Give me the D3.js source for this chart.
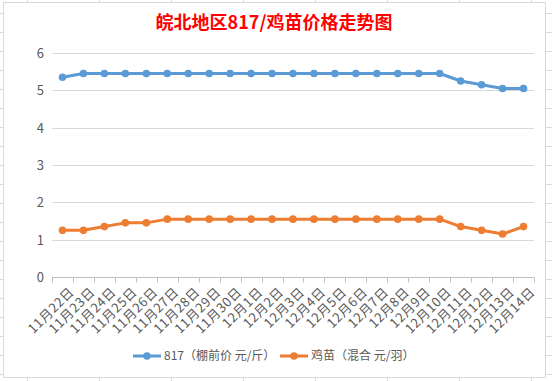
<!DOCTYPE html>
<html>
<head>
  <meta http-equiv="Content-Type" content="text/html;charset=utf-8" />
  <style type="text/css">
    body { margin: 0; background: #fff; }
    text { font-family: "Noto Sans CJK SC", "Noto Sans", sans-serif; }
  </style>
</head>
<body>
  <div id="svgContainer"></div>
  <script src="https://d3js.org/d3.v7.min.js"></script>
  <script type="text/javascript">
    var dates = ["11月22日", "11月23日", "11月24日", "11月25日", "11月26日", "11月27日",
      "11月28日", "11月29日", "11月30日", "12月1日", "12月2日", "12月3日", "12月4日",
      "12月5日", "12月6日", "12月7日", "12月8日", "12月9日", "12月10日", "12月11日",
      "12月12日", "12月13日", "12月14日"];
    var price817 = [5.35, 5.45, 5.45, 5.45, 5.45, 5.45, 5.45, 5.45, 5.45, 5.45, 5.45, 5.45,
      5.45, 5.45, 5.45, 5.45, 5.45, 5.45, 5.45, 5.25, 5.15, 5.05, 5.05];
    var chickPrice = [1.25, 1.25, 1.35, 1.45, 1.45, 1.55, 1.55, 1.55, 1.55, 1.55, 1.55, 1.55,
      1.55, 1.55, 1.55, 1.55, 1.55, 1.55, 1.55, 1.35, 1.25, 1.15, 1.35];
    var yTicks = [0, 1, 2, 3, 4, 5, 6];
    var seriesNames = ["817（棚前价 元/斤）", "鸡苗（混合 元/羽）"];
    var colors = ["#5b9bd5", "#ed7d31"];

    var w = 552, h = 381;
    var svg = d3.select("#svgContainer").append("svg")
      .attr("width", w).attr("height", h);

    // spreadsheet cells behind the chart
    var sheet = svg.append("g").attr("stroke", "#dadada").attr("stroke-width", 1);
    d3.range(27, w, 72).forEach(function (xx) {
      sheet.append("line").attr("x1", xx + 0.5).attr("x2", xx + 0.5).attr("y1", 0).attr("y2", h);
    });
    d3.range(13, h, 19).forEach(function (yy) {
      sheet.append("line").attr("x1", 0).attr("x2", w).attr("y1", yy + 0.5).attr("y2", yy + 0.5);
    });

    // chart box
    svg.append("rect")
      .attr("x", 3.5).attr("y", 2.5).attr("width", 542).attr("height", 375)
      .attr("fill", "#fff").attr("stroke", "#d9d9d9");

    svg.append("text")
      .attr("x", 274).attr("y", 29)
      .attr("text-anchor", "middle")
      .attr("fill", "#ff0000")
      .attr("font-size", 18)
      .attr("font-weight", "bold")
      .text("皖北地区817/鸡苗价格走势图");

    var plotLeft = 52, plotRight = 534, plotTop = 53, plotBottom = 277;

    var x = d3.scaleBand().domain(dates).range([plotLeft, plotRight]);
    var y = d3.scaleLinear().domain([0, 6]).range([plotBottom, plotTop]);

    // gridlines
    svg.append("g").selectAll("line").data(yTicks.slice(1)).join("line")
      .attr("x1", plotLeft).attr("x2", plotRight)
      .attr("y1", function (d) { return Math.round(y(d)) + 0.5; })
      .attr("y2", function (d) { return Math.round(y(d)) + 0.5; })
      .attr("stroke", "#d9d9d9");

    // y labels
    svg.append("g").selectAll("text").data(yTicks).join("text")
      .attr("x", 44).attr("y", function (d) { return y(d) + 5; })
      .attr("text-anchor", "end")
      .attr("font-size", 13)
      .attr("fill", "#595959")
      .text(function (d) { return d; });

    // x axis
    var xAxis = svg.append("g").attr("transform", "translate(0," + (Math.round(plotBottom) + 0.5) + ")");
    xAxis.append("line").attr("x1", plotLeft).attr("x2", plotRight).attr("stroke", "#bfbfbf");
    xAxis.selectAll(".tk").data(dates.concat(["end"])).join("line")
      .attr("class", "tk")
      .attr("x1", function (d, i) { return Math.round(plotLeft + i * x.step()) + 0.5; })
      .attr("x2", function (d, i) { return Math.round(plotLeft + i * x.step()) + 0.5; })
      .attr("y1", 0).attr("y2", 5)
      .attr("stroke", "#bfbfbf");
    xAxis.selectAll("text").data(dates).join("text")
      .attr("transform", function (d) {
        return "translate(" + (x(d) + x.bandwidth() / 2 + 6) + ",9) rotate(-45)";
      })
      .attr("text-anchor", "end")
      .attr("dy", "0.7em")
      .attr("font-size", 13)
      .attr("letter-spacing", 0.6)
      .attr("fill", "#595959")
      .text(function (d) { return d; });

    var line = d3.line()
      .x(function (d, i) { return x(dates[i]) + x.bandwidth() / 2; })
      .y(function (d) { return y(d); });

    [price817, chickPrice].forEach(function (s, k) {
      var g = svg.append("g");
      g.append("path")
        .attr("d", line(s))
        .attr("fill", "none")
        .attr("stroke", colors[k])
        .attr("stroke-width", 3)
        .attr("stroke-linejoin", "round");
      g.selectAll("circle").data(s).join("circle")
        .attr("cx", function (d, i) { return x(dates[i]) + x.bandwidth() / 2; })
        .attr("cy", function (d) { return y(d); })
        .attr("r", 3.8)
        .attr("fill", colors[k]);
    });

    // legend
    var legendX = [133, 280];
    seriesNames.forEach(function (name, k) {
      var g = svg.append("g").attr("transform", "translate(" + legendX[k] + ",356)");
      g.append("line").attr("x1", 0).attr("x2", 28)
        .attr("stroke", colors[k]).attr("stroke-width", 3);
      g.append("circle").attr("cx", 14).attr("r", 3.8).attr("fill", colors[k]);
      g.append("text").attr("x", 31).attr("y", 4)
        .attr("font-size", 12).attr("fill", "#595959")
        .text(name);
    });
  </script>
</body>
</html>
